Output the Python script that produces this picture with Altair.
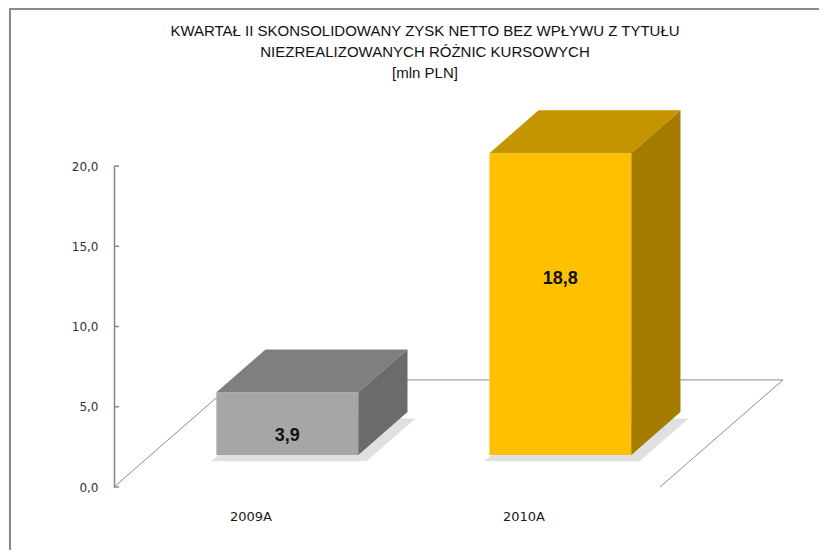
import altair as alt
import pandas as pd

# ---- data ----
categories = ["2009A", "2010A"]
values = [3.9, 18.8]
front_colors = ["#a6a6a6", "#ffc000"]
top_colors = ["#7f7f7f", "#c49500"]
side_colors = ["#6b6b6b", "#a67c00"]
y_ticks = [0, 5, 10, 15, 20]
title_lines = [
    "KWARTAŁ II SKONSOLIDOWANY ZYSK NETTO BEZ WPŁYWU Z TYTUŁU",
    "NIEZREALIZOWANYCH RÓŻNIC KURSOWYCH",
    "[mln PLN]",
]

# ---- 3D geometry (style constants) ----
W, H = 546, 321
DEPTH_X = 0.45      # floor depth, in x units (one category band = 1)
DEPTH_Y = 6.67      # floor depth, in y units
T0, T1 = 0.30, 0.70 # bar depth span (fraction of floor depth)
BAR_W = 0.52        # bar width, fraction of band
SH_X, SH_Y = 0.03, 0.4  # soft shadow offset

n = len(categories)
front, top, side, labels, shadow = [], [], [], [], []
for i, (c, v) in enumerate(zip(categories, values)):
    xl = i + 0.5 - BAR_W / 2 + T0 * DEPTH_X
    xr = xl + BAR_W
    yb = T0 * DEPTH_Y
    yt = yb + v
    dx = (T1 - T0) * DEPTH_X
    dy = (T1 - T0) * DEPTH_Y
    front.append({"cat": c, "x": xl, "x2": xr, "y": yb, "y2": yt, "color": front_colors[i]})
    top.append({"cat": c, "y": yt, "x": xl, "x2": xr, "color": top_colors[i]})
    top.append({"cat": c, "y": yt + dy, "x": xl + dx, "x2": xr + dx, "color": top_colors[i]})
    side.append({"cat": c, "x": xr, "y": yb, "y2": yt, "color": side_colors[i]})
    side.append({"cat": c, "x": xr + dx, "y": yb + dy, "y2": yt + dy, "color": side_colors[i]})
    shadow.append({"cat": c, "y": yb - SH_Y, "x": xl - 0.02, "x2": xr + SH_X})
    shadow.append({"cat": c, "y": yb + dy - SH_Y, "x": xl + dx, "x2": xr + dx + SH_X})
    labels.append({"cat": c, "x": (xl + xr) / 2, "y": yb + 0.656 * v - 1.38,
                   "text": f"{v:.1f}".replace(".", ",")})

floor = pd.DataFrame({
    "x": [0, DEPTH_X, n + DEPTH_X, n],
    "y": [0, DEPTH_Y, DEPTH_Y, 0],
    "o": [0, 1, 2, 3],
})

xs = alt.Scale(domain=[0, n], nice=False, zero=False)
ys = alt.Scale(domain=[min(y_ticks), max(y_ticks)], nice=False)

cat_list = "[" + ",".join("'" + c + "'" for c in categories) + "]"
x_axis = alt.Axis(values=[i + 0.5 for i in range(n)],
                  labelExpr=cat_list + "[round(datum.value - 0.5)]",
                  title=None, domain=False, ticks=False, grid=False,
                  labelPadding=23, labelFont="DejaVu Sans", labelFontSize=13,
                  labelColor="#1a1a1a", zindex=1)
y_axis = alt.Axis(values=y_ticks,
                  labelExpr="replace(format(datum.value, '.1f'), '.', ',')",
                  title=None, domainColor="#868686", domainWidth=1.5, ticks=False,
                  grid=False, labelPadding=16, labelFont="DejaVu Sans",
                  labelFontSize=12, labelColor="#333333", zindex=1)

X = alt.X("x:Q", scale=xs, axis=x_axis)
Y = alt.Y("y:Q", scale=ys, axis=y_axis)

frame = alt.Chart(pd.DataFrame({"a": [0]})).mark_rect(
    fill="white", stroke="#8a8a8a", strokeWidth=2
).encode(x=alt.value(-104), x2=alt.value(W + 300), y=alt.value(-157), y2=alt.value(H + 300))

floor_lines = alt.Chart(floor).mark_line(color="#8c8c8c", strokeWidth=1).encode(
    x=X, y=Y, order="o:Q")

tick_rules = alt.Chart(pd.DataFrame({"y": y_ticks})).mark_rule(
    color="#868686", strokeWidth=1.5).encode(y=Y, x=alt.value(0), x2=alt.value(5))

shadows = alt.Chart(pd.DataFrame(shadow)).mark_area(
    orient="horizontal", color="#000000", opacity=0.12).encode(
    y=Y, x=X, x2="x2:Q", detail="cat:N")

front_faces = alt.Chart(pd.DataFrame(front)).mark_rect().encode(
    x=X, x2="x2:Q", y=Y, y2="y2:Q", color=alt.Color("color:N", scale=None))

top_faces = alt.Chart(pd.DataFrame(top)).mark_area(orient="horizontal").encode(
    y=Y, x=X, x2="x2:Q", detail="cat:N", color=alt.Color("color:N", scale=None))

side_faces = alt.Chart(pd.DataFrame(side)).mark_area(orient="vertical").encode(
    x=X, y=Y, y2="y2:Q", detail="cat:N", color=alt.Color("color:N", scale=None))

value_labels = alt.Chart(pd.DataFrame(labels)).mark_text(
    font="Liberation Sans", fontSize=18, fontWeight="bold", color="#111111"
).encode(x=X, y=Y, text="text:N")

chart = alt.layer(
    frame, floor_lines, tick_rules, shadows, front_faces, top_faces, side_faces,
    value_labels
).properties(
    width=W, height=H,
    title=alt.TitleParams(text=title_lines, frame="group", anchor="middle", dx=38,
                          offset=-73, font="Liberation Sans", fontSize=15,
                          fontWeight="normal", color="#111111", lineHeight=21),
    autosize=alt.AutoSizeParams(type="none"),
    padding={"left": 106, "top": 158, "right": 159, "bottom": 63},
    background="#fdf8f3",
).configure_view(stroke=None)

chart.save("out.html", embed_options={"renderer": "svg", "actions": False})
